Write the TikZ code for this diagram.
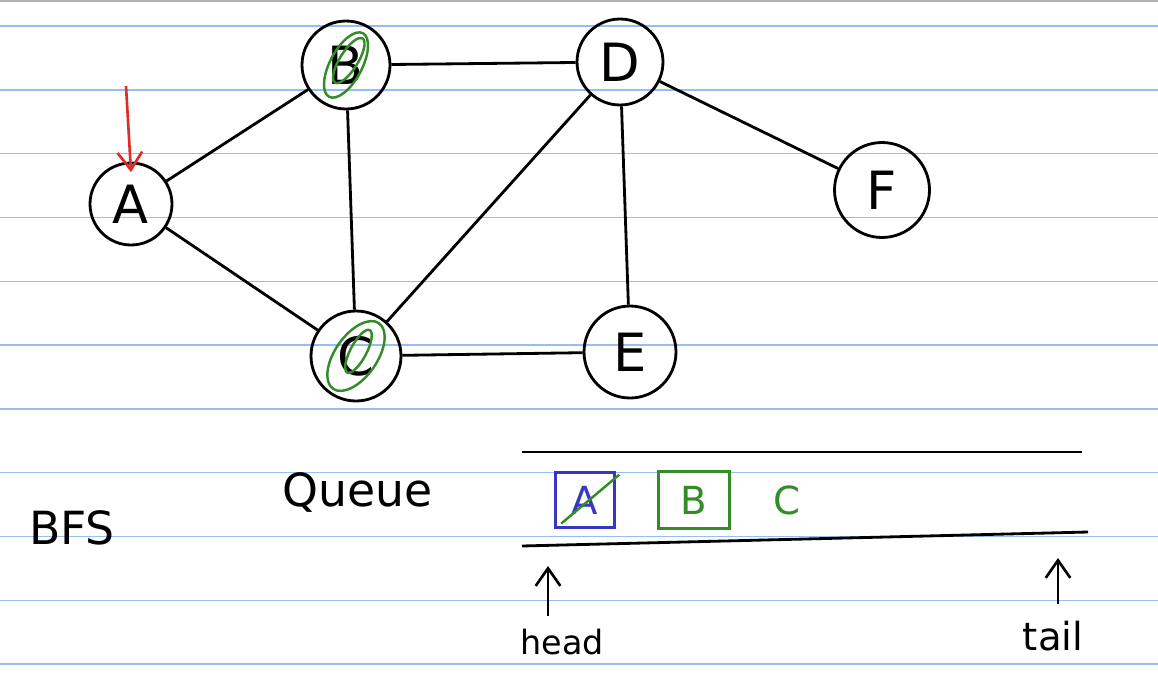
\documentclass[tikz,border=0pt]{standalone}
\usepackage{fontspec}
\setmainfont{DejaVu Sans}
\usetikzlibrary{arrows.meta}
\definecolor{ruleblue}{RGB}{150,190,240}
\definecolor{penGreen}{RGB}{52,140,40}
\definecolor{penBlue}{RGB}{55,55,195}
\definecolor{penRed}{RGB}{222,45,40}
\begin{document}
\begin{tikzpicture}[x=0.02cm,y=-0.02cm,
  vertex/.style={circle,draw,line width=1.6pt,inner sep=0pt,font=\fontsize{30}{34}\selectfont},
  edge/.style={line width=1.6pt},
  pen/.style={line width=1.5pt,-{Straight Barb[length=10pt,width=14pt]}},
  scribble/.style={penGreen,line width=1.4pt}]
  \useasboundingbox (0,0) rectangle (1158,686);
  \fill[white] (0,0) rectangle (1158,686);
  \draw[gray!60,line width=1pt] (0,1) -- (1158,1);
  % ruled lines of the page
  \foreach \k in {0,...,10}
    \draw[ruleblue,line width=0.8pt] (0,26+63.8*\k) -- (1158,26+63.8*\k);

  % graph
  \node[vertex,minimum size=1.64cm] (A) at (131,204) {A};
  \node[vertex,minimum size=1.76cm] (B) at (346,65) {B};
  \node[vertex,minimum size=1.72cm] (D) at (620,62) {D};
  \node[vertex,minimum size=1.9cm] (F) at (882,190) {F};
  \node[vertex,minimum size=1.8cm] (C) at (356,356) {C};
  \node[vertex,minimum size=1.84cm] (E) at (630,352) {E};
  \draw[edge] (A) -- (B);
  \draw[edge] (A) -- (C);
  \draw[edge] (B) -- (D);
  \draw[edge] (B) -- (C);
  \draw[edge] (C) -- (D);
  \draw[edge] (C) -- (E);
  \draw[edge] (D) -- (E);
  \draw[edge] (D) -- (F);

  % visited marks
  \draw[scribble,rotate around={62:(B.center)}] (B.center) ellipse (36 and 16);
  \draw[scribble,rotate around={58:(B.center)}] ([xshift=3pt]B.center) ellipse (26 and 9);
  \draw[scribble,rotate around={55:(C.center)}] (C.center) ellipse (40 and 21);
  \draw[scribble,rotate around={62:(C.center)}] ([xshift=3pt]C.center) ellipse (24 and 8);

  % start marker
  \coordinate (start) at (126,86);
  \draw[pen,penRed] (start) -- ([yshift=-6pt]A.north);

  % queue
  \node[font=\fontsize{26}{30}\selectfont] (queue) at (358,492) {Queue};
  \node[font=\fontsize{26}{30}\selectfont] (bfs) at (72,528) {BFS};
  \coordinate (qtopL) at (522,452);
  \coordinate (qtopR) at (1082,452);
  \coordinate (qbotL) at (522,546);
  \coordinate (qbotR) at (1088,532);
  \draw[edge] (qtopL) -- (qtopR);
  \draw[edge] (qbotL) -- (qbotR);
  \node[draw=penBlue,text=penBlue,line width=1.5pt,minimum width=1.18cm,minimum height=1.1cm,
    font=\fontsize{22}{26}\selectfont] (qA) at (585,500) {A};
  \draw[scribble] ([shift={(2pt,-2pt)}]qA.north east) -- ([shift={(4pt,3pt)}]qA.south west);
  \node[draw=penGreen,text=penGreen,line width=1.5pt,minimum width=1.42cm,minimum height=1.14cm,
    font=\fontsize{22}{26}\selectfont] (qB) at (694,500) {B};
  \node[text=penGreen,font=\fontsize{22}{26}\selectfont] (qC) at (787,500) {C};

  % head and tail
  \node[font=\fontsize{19}{23}\selectfont] (head) at (562,642) {head};
  \node[font=\fontsize{22}{26}\selectfont] (tail) at (1053,636) {tail};
  \coordinate (headtip) at (548,566);
  \coordinate (tailtip) at (1058,558);
  \draw[pen] ([yshift=4pt]head.north -| headtip) -- (headtip);
  \draw[pen] ([yshift=6pt]tail.north -| tailtip) -- (tailtip);
\end{tikzpicture}
\end{document}
